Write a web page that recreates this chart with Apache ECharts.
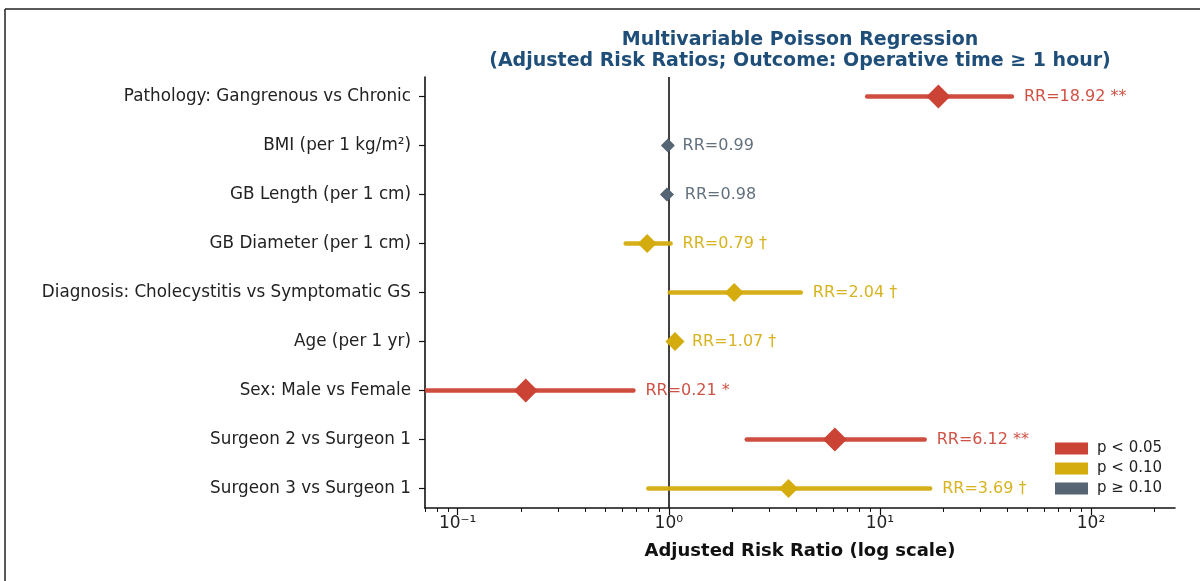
<!DOCTYPE html>
<html>
<head>
<meta charset="utf-8">
<script src="https://cdn.jsdelivr.net/npm/echarts@6/dist/echarts.min.js"></script>
<style>
    html, body {margin: 0; padding: 0; background: #fff;}
    #forestDiv {width: 1200px; height: 581px;}
</style>
</head>
<body>
<div id="forestDiv"></div>
<script>
// rows, top to bottom
var categories = [
    'Pathology: Gangrenous vs Chronic',
    'BMI (per 1 kg/m²)',
    'GB Length (per 1 cm)',
    'GB Diameter (per 1 cm)',
    'Diagnosis: Cholecystitis vs Symptomatic GS',
    'Age (per 1 yr)',
    'Sex: Male vs Female',
    'Surgeon 2 vs Surgeon 1',
    'Surgeon 3 vs Surgeon 1'
];
var riskRatio = [18.92, 0.99, 0.98, 0.79, 2.04, 1.07, 0.21, 6.12, 3.69];
var ciLow = [8.7, 0.97, 0.93, 0.625, 1.01, 1.0, 0.06, 2.34, 0.80];
var ciHigh = [42.2, 1.02, 1.045, 1.02, 4.22, 1.13, 0.68, 16.3, 17.3];
var stars = ['**', '', '', '†', '†', '†', '*', '**', '†'];
// 0: p < 0.05, 1: p < 0.10, 2: p >= 0.10
var sigGroup = [0, 2, 2, 1, 1, 1, 0, 0, 1];

var groupNames = ['p < 0.05', 'p < 0.10', 'p ≥ 0.10'];
var groupColors = ['#cb4335', '#d4ac0d', '#566573'];
var markerSize = [24, 19, 14];
var ciWidth = [4.5, 4.5, 1.5];
var xTicks = [0.1, 1, 10, 100];
var xMinorTicks = [0.07, 0.08, 0.09, 0.2, 0.3, 0.4, 0.5, 0.6, 0.7, 0.8, 0.9,
    2, 3, 4, 5, 6, 7, 8, 9, 20, 30, 40, 50, 60, 70, 80, 90, 200];
var rowTicks = [0, 1, 2, 3, 4, 5, 6, 7, 8];

var FONT = 'DejaVu Sans';
var supers = {'-': '⁻', '0': '⁰', '1': '¹', '2': '²', '3': '³'};

function powLabel(v) {
    var e = String(Math.round(Math.log10(v)));
    var s = '';
    for (var i = 0; i < e.length; i++) {
        s += supers[e[i]];
    }
    return '10' + s;
}

function makeRender(g) {
    return function (params, api) {
        var row = api.value(0);
        var lo = api.coord([api.value(1), row]);
        var hi = api.coord([api.value(2), row]);
        var mid = api.coord([api.value(3), row]);
        var h = markerSize[g] / 2;
        var color = groupColors[g];
        var txt = 'RR=' + riskRatio[row].toFixed(2) + (stars[row] ? ' ' + stars[row] : '');
        return {
            type: 'group',
            children: [
                {
                    type: 'line',
                    shape: {x1: lo[0], y1: lo[1], x2: hi[0], y2: hi[1]},
                    style: {stroke: color, lineWidth: ciWidth[g], lineCap: 'round', opacity: 0.95}
                },
                {
                    type: 'polygon',
                    shape: {points: [[mid[0], mid[1] - h], [mid[0] + h, mid[1]], [mid[0], mid[1] + h], [mid[0] - h, mid[1]]]},
                    style: {fill: color}
                },
                {
                    type: 'text',
                    style: {
                        x: hi[0] + 12, y: mid[1], text: txt,
                        fill: color, opacity: 0.92,
                        font: '16px "' + FONT + '"',
                        verticalAlign: 'middle', textAlign: 'left'
                    }
                }
            ]
        };
    };
}

var series = [];
for (var g = 0; g < 3; g++) {
    var data = [];
    for (var i = 0; i < categories.length; i++) {
        if (sigGroup[i] === g) {
            data.push([i, ciLow[i], ciHigh[i], riskRatio[i]]);
        }
    }
    series.push({
        name: groupNames[g],
        type: 'custom',
        clip: true,
        z: 5,
        itemStyle: {color: groupColors[g]},
        renderItem: makeRender(g),
        data: data
    });
}
// reference line at RR = 1
series[0].markLine = {
    silent: true,
    symbol: 'none',
    z: 3,
    label: {show: false},
    lineStyle: {color: '#111', width: 1.6, type: 'solid'},
    data: [{xAxis: 1}]
};

var chart = echarts.init(document.getElementById('forestDiv'));
var option = {
    animation: false,
    backgroundColor: '#fff',
    textStyle: {fontFamily: FONT},
    grid: {left: 425, right: 25, top: 77, bottom: 73},
    graphic: [
        {
            type: 'text', x: 800, y: 30,
            style: {
                text: 'Multivariable Poisson Regression\n(Adjusted Risk Ratios; Outcome: Operative time ≥ 1 hour)',
                textAlign: 'center', fill: '#1f4e79', lineHeight: 21,
                font: 'bold 19px "' + FONT + '"'
            }
        },
        {type: 'line', shape: {x1: 5, y1: 9, x2: 1200, y2: 9}, style: {stroke: '#222', lineWidth: 1.5}},
        {type: 'line', shape: {x1: 5, y1: 9, x2: 5, y2: 581}, style: {stroke: '#222', lineWidth: 1.5}}
    ],
    legend: {
        orient: 'vertical',
        left: 1050, top: 436,
        icon: 'rect',
        itemWidth: 33, itemHeight: 12, itemGap: 5,
        textStyle: {fontFamily: FONT, fontSize: 15, color: '#222', padding: [0, 0, 0, 4]},
        data: groupNames
    },
    xAxis: [
        {
            type: 'log', min: 0.07, max: 250,
            name: 'Adjusted Risk Ratio (log scale)',
            nameLocation: 'middle', nameGap: 34,
            nameTextStyle: {fontFamily: FONT, fontSize: 18, fontWeight: 'bold', color: '#111'},
            axisLine: {onZero: false, lineStyle: {color: '#111', width: 1.6}},
            axisTick: {length: 7, lineStyle: {color: '#111', width: 1.2}, customValues: xTicks},
            axisLabel: {fontFamily: FONT, fontSize: 17, color: '#222', margin: 7, customValues: xTicks, formatter: powLabel},
            splitLine: {show: false}
        },
        {
            type: 'log', min: 0.07, max: 250, position: 'bottom',
            axisLine: {show: false, onZero: false},
            axisTick: {length: 4, lineStyle: {color: '#111', width: 1}, customValues: xMinorTicks},
            axisLabel: {show: false},
            splitLine: {show: false}
        }
    ],
    yAxis: {
        type: 'value', inverse: true, min: -0.4, max: 8.4,
        axisLine: {show: true, onZero: false, lineStyle: {color: '#111', width: 1.6}},
        axisTick: {show: true, length: 6, lineStyle: {color: '#111', width: 1.2}, customValues: rowTicks},
        axisLabel: {
            fontFamily: FONT, fontSize: 16.8, color: '#222', margin: 14,
            customValues: rowTicks,
            formatter: function (v) { return categories[v]; }
        },
        splitLine: {show: false}
    },
    series: series
};
chart.setOption(option);
</script>
</body>
</html>
